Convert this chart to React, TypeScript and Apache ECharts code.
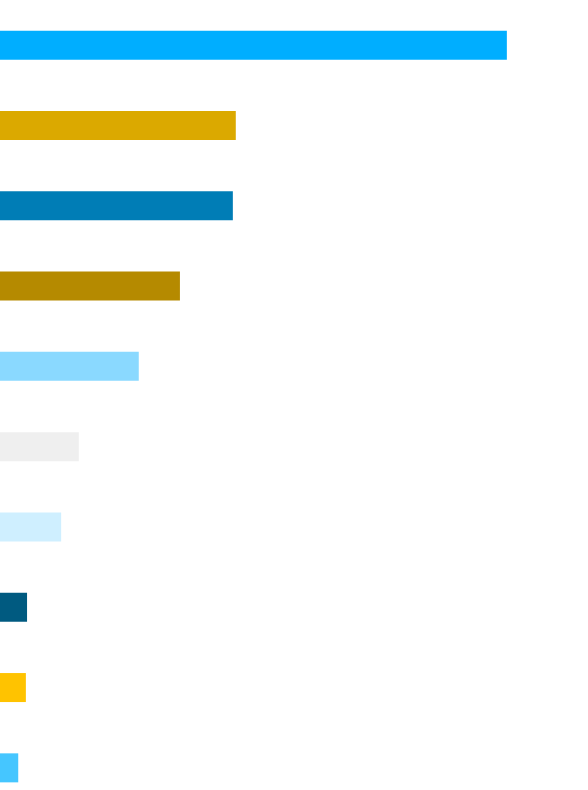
import React, { useEffect, useRef } from "react";
import * as echarts from "echarts";

const categories = ["A", "B", "C", "D", "E", "F", "G", "H", "I", "J"];
const values = [86.2, 40.1, 39.6, 30.6, 23.6, 13.4, 10.4, 4.6, 4.4, 3.1];
const colors = [
  "#00AEFF",
  "#DBA900",
  "#007DB6",
  "#B58A00",
  "#8AD9FF",
  "#EFEFEF",
  "#CFEFFF",
  "#005A80",
  "#FFC300",
  "#45C6FF",
];

export default function App() {
  const ref = useRef<HTMLDivElement>(null);
  useEffect(() => {
    if (!ref.current) return;
    const chart = echarts.init(ref.current, null, { renderer: "svg" });
    chart.setOption({
      animation: false,
      backgroundColor: "#ffffff",
      grid: { left: 0, top: 5, width: 588, height: 803, containLabel: false },
      xAxis: {
        type: "value",
        min: 0,
        max: 100,
        show: false,
        splitLine: { show: false },
      },
      yAxis: {
        type: "category",
        data: categories,
        inverse: true,
        show: false,
      },
      series: [
        {
          type: "bar",
          barWidth: 29,
          data: values.map((v, i) => ({ value: v, itemStyle: { color: colors[i] } })),
        },
      ],
    });
    return () => chart.dispose();
  }, []);
  return (
    <div
      style={{
        position: "absolute",
        left: 0,
        top: 0,
        width: 588,
        height: 790,
        overflow: "hidden",
        background: "#ffffff",
      }}
    >
      <div ref={ref} style={{ width: 588, height: 820 }} />
    </div>
  );
}
